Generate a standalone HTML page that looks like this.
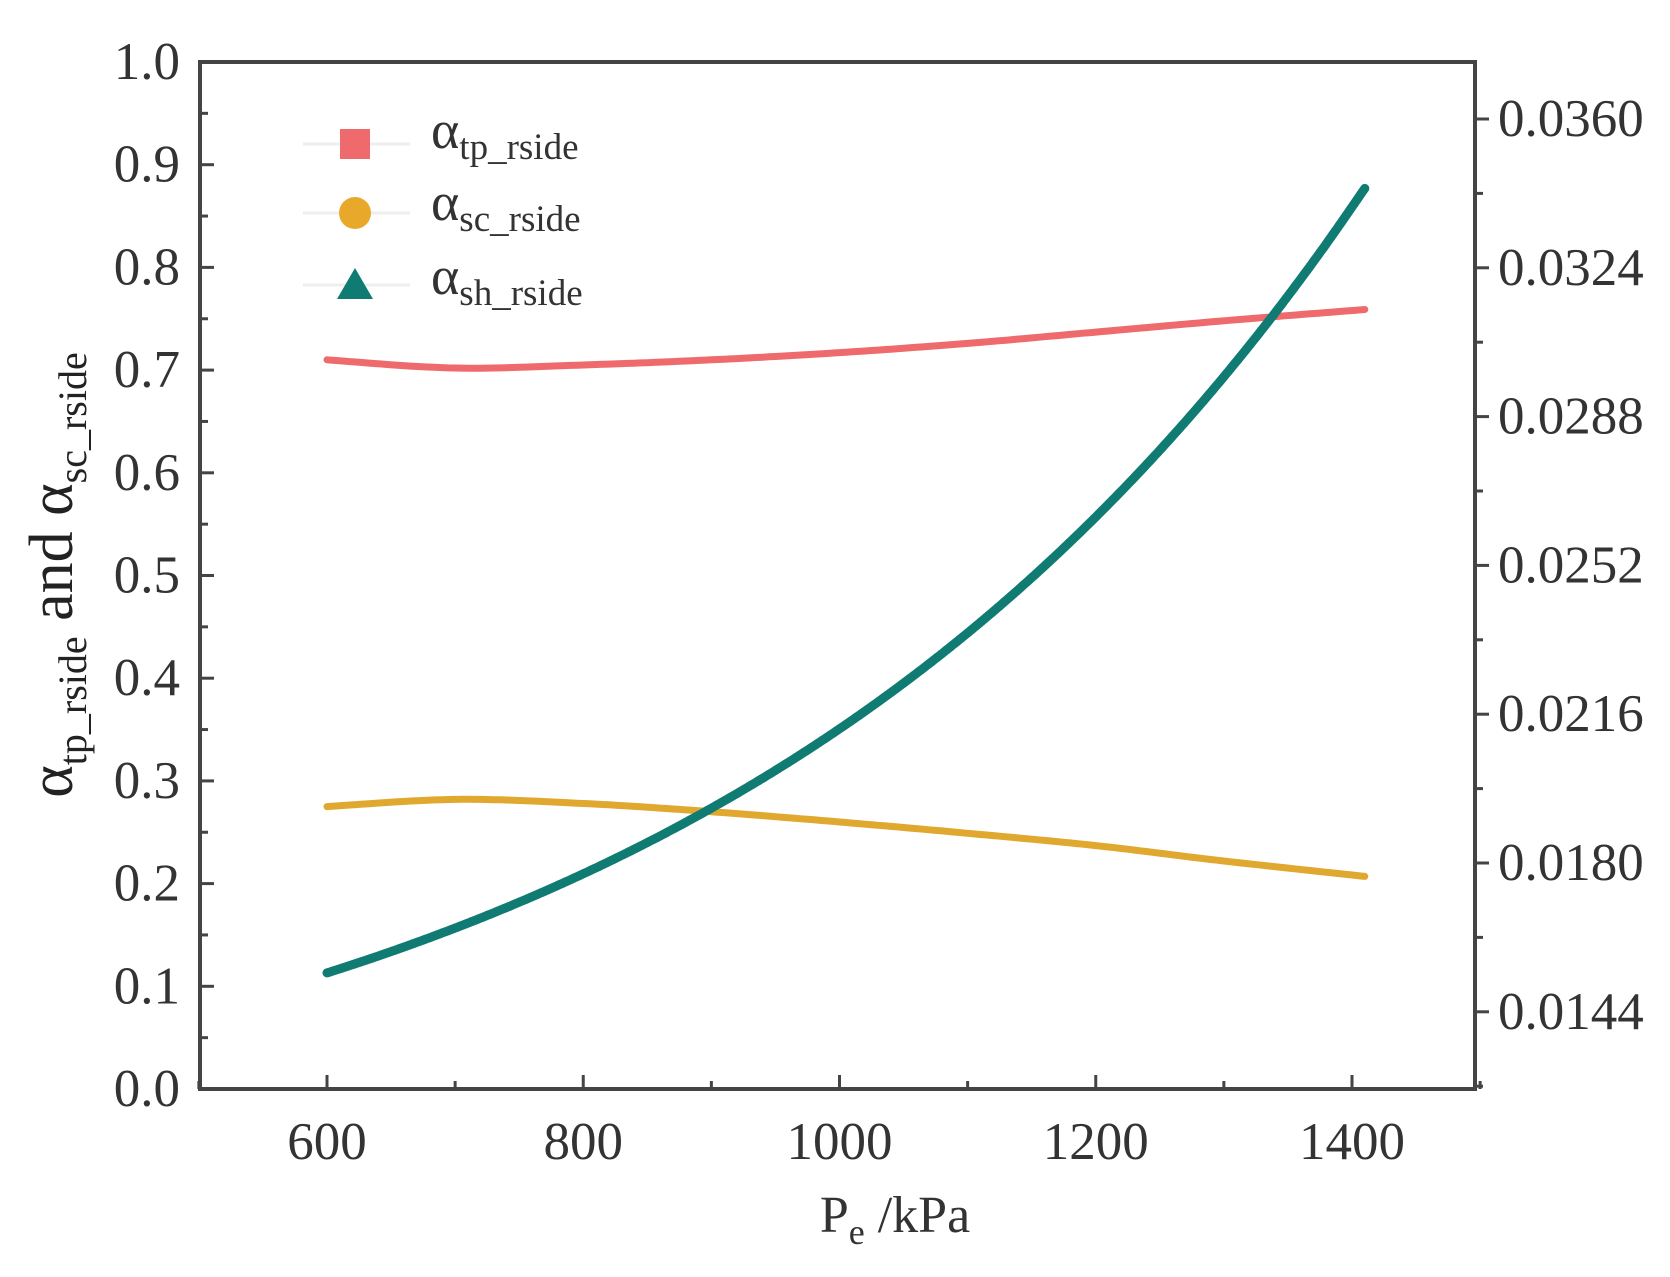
<!DOCTYPE html>
<html><head><meta charset="utf-8"><style>
html,body{margin:0;padding:0;background:#fff;}
svg{display:block;font-family:"Liberation Serif",serif;}
</style></head><body>
<svg id="s" width="1670" height="1277" viewBox="0 0 1670 1277" xmlns="http://www.w3.org/2000/svg">
<rect width="1670" height="1277" fill="#fff"/>
<g id="g"></g>
<text x="0" y="0" transform="translate(72,575) rotate(-90)" text-anchor="middle" font-size="62" fill="#222">α<tspan font-size="40" dy="14">tp_rside</tspan><tspan dy="-14"> and α</tspan><tspan font-size="40" dy="14">sc_rside</tspan></text>
<text x="895" y="1232" text-anchor="middle" font-size="52" fill="#333">P<tspan font-size="36" dy="12">e</tspan><tspan dy="-12"> /kPa</tspan></text>
<g font-size="54" fill="#333">
<line x1="303" y1="144" x2="410" y2="144" stroke="#eee" stroke-width="3"/>
<rect x="340" y="129" width="30" height="30" fill="#ee6a6d"/>
<text x="431" y="148">α<tspan font-size="37" dy="11">tp_rside</tspan></text>
<line x1="303" y1="213" x2="410" y2="213" stroke="#eee" stroke-width="3"/>
<circle cx="355" cy="213" r="16" fill="#e8a92a"/>
<text x="431" y="220">α<tspan font-size="37" dy="11">sc_rside</tspan></text>
<line x1="303" y1="285" x2="410" y2="285" stroke="#eee" stroke-width="3"/>
<polygon points="355,268 373,299 337,299" fill="#0f7b72"/>
<text x="431" y="294">α<tspan font-size="37" dy="11">sh_rside</tspan></text>
</g>
</svg>
<script>
var g=document.getElementById('g'),h='';
var L=200,R=1475,T=62,B=1089;
function X(p){return 327+(p-600)*256.25/200;}
function Y(v){return B-v*1027;}
h+='<path d="M'+L+','+T+'V'+B+'H'+R+'V'+T+'Z" fill="none" stroke="#444" stroke-width="4"/>';
for(var i=0;i<=20;i++){var v=i*0.05,y=Y(v),maj=i%2==0;
h+='<line x1="'+L+'" y1="'+y+'" x2="'+(L+(maj?14:8))+'" y2="'+y+'" stroke="#444" stroke-width="3"/>';
if(maj)h+='<text x="180" y="'+(y+17)+'" text-anchor="end" font-size="53" fill="#333">'+v.toFixed(1)+'</text>';}
for(var p=500;p<=1500;p+=100){var x=X(p),maj=p%200==0;
h+='<line x1="'+x+'" y1="'+B+'" x2="'+x+'" y2="'+(B-(maj?14:8))+'" stroke="#444" stroke-width="3"/>';
if(maj&&p>=600&&p<=1400)h+='<text x="'+x+'" y="'+(B+70)+'" text-anchor="middle" font-size="53" fill="#333">'+p+'</text>';}
for(var i=0;i<=14;i++){var yy=119+(i-1)*74.4;if(yy<T||yy>B)continue;var maj=(i%2==1);
h+='<line x1="'+R+'" y1="'+yy+'" x2="'+(R+(maj?14:8))+'" y2="'+yy+'" stroke="#444" stroke-width="3"/>';
if(maj){var val=0.0360-((i-1)/2)*0.0036;h+='<text x="1498" y="'+(yy+17)+'" font-size="53" fill="#333">'+val.toFixed(4)+'</text>';}}
function curve(pts,col,w){var d='';var n=pts.length;
for(var k=0;k<n-1;k++){var p0=pts[Math.max(k-1,0)],p1=pts[k],p2=pts[k+1],p3=pts[Math.min(k+2,n-1)];
for(var t=0;t<=1.0001;t+=0.05){var t2=t*t,t3=t2*t;
var f=function(a,b,c,d){return 0.5*(2*b+(-a+c)*t+(2*a-5*b+4*c-d)*t2+(-a+3*b-3*c+d)*t3);};
var px=f(p0[0],p1[0],p2[0],p3[0]),py=f(p0[1],p1[1],p2[1],p3[1]);
d+=(d?'L':'M')+X(px).toFixed(1)+','+Y(py).toFixed(1);}}
h+='<path d="'+d+'" fill="none" stroke="'+col+'" stroke-width="'+w+'" stroke-linecap="round" stroke-linejoin="round"/>';}
curve([[600,0.71],[700,0.702],[800,0.705],[900,0.71],[1000,0.717],[1100,0.726],[1200,0.737],[1300,0.748],[1410,0.759]],'#ee6a6d',7);
curve([[600,0.275],[700,0.282],[800,0.278],[900,0.27],[1000,0.26],[1100,0.249],[1200,0.237],[1300,0.222],[1410,0.207]],'#e0a82e',7);
var sh=[];for(var p=600;p<=1410;p+=30){var u=(p-600)/810;sh.push([p,-0.096+0.209*Math.exp(1.538*u)]);}
curve(sh,'#0f7b72',9);
g.innerHTML=h;
</script>
</body></html>
